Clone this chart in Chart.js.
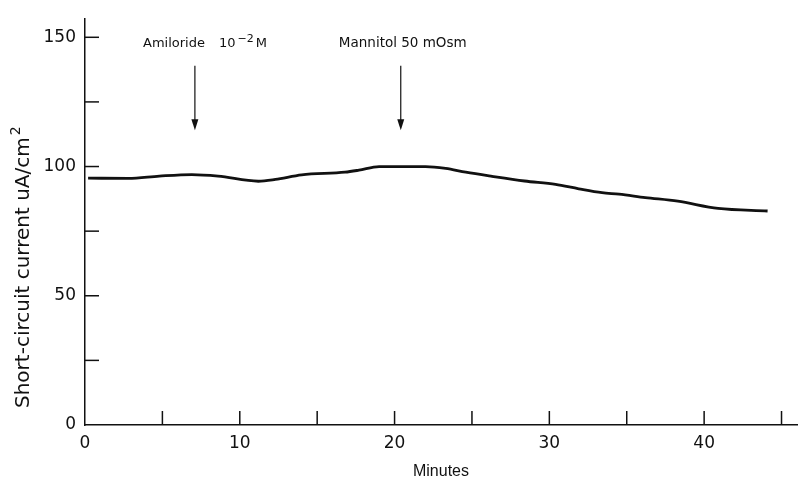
<!DOCTYPE html>
<html>
<head>
<meta charset="utf-8">
<script src="https://cdn.jsdelivr.net/npm/chart.js@4/dist/chart.umd.min.js"></script>
<style>
  html, body { margin: 0; padding: 0; background: #fff; }
  #wrap { width: 798px; height: 485px; }
</style>
</head>
<body>
<div id="wrap"><canvas id="chart"></canvas></div>
<script>
// Data (minutes, uA/cm2)
const minutes = [0.2, 2.8, 4.8, 6.9, 8.6, 11.2, 12.3, 14.0, 16.8, 17.7, 19.0, 22.0, 23.3, 24.6, 26.3, 28.4, 30.4, 31.9, 33.4, 34.5, 36.2, 38.3, 40.9, 44.1];
const current = [95.5, 95.4, 96.3, 96.9, 96.3, 94.3, 95.0, 96.8, 97.8, 98.6, 100.0, 100.0, 99.3, 97.8, 96.2, 94.4, 93.1, 91.4, 89.9, 89.3, 88.0, 86.6, 83.8, 82.8];

const xTicks = [0, 5, 10, 15, 20, 25, 30, 35, 40, 45];
const yTicks = [0, 25, 50, 75, 100, 125, 150];

// drug additions (minute, arrow top value, arrow tip value)
const addTimes = [7.1, 20.4];
const addLabels = ['Amiloride', 'Mannitol 50 mOsm'];
const arrowTop = 139;
const arrowTip = 114;

const wide = '"DejaVu Sans", sans-serif';
const narrow = '"Liberation Sans", Arial, sans-serif';

// inward ticks, arrows, labels, y title
const extras = {
  id: 'extras',
  afterDraw(chart) {
    const ctx = chart.ctx;
    const x = chart.scales.x, y = chart.scales.y;
    ctx.save();
    ctx.strokeStyle = '#111';
    ctx.lineWidth = 1.5;
    x.ticks.forEach(t => {
      if (t.value === 0) return;
      const px = x.getPixelForValue(t.value);
      ctx.beginPath();
      ctx.moveTo(px, y.bottom);
      ctx.lineTo(px, y.bottom - 14);
      ctx.stroke();
    });
    y.ticks.forEach(t => {
      if (t.value === 0) return;
      const py = y.getPixelForValue(t.value);
      ctx.beginPath();
      ctx.moveTo(x.left, py);
      ctx.lineTo(x.left + 14, py);
      ctx.stroke();
    });

    // arrows
    addTimes.forEach(m => {
      const px = x.getPixelForValue(m);
      const top = y.getPixelForValue(arrowTop);
      const tip = y.getPixelForValue(arrowTip);
      ctx.lineWidth = 1.2;
      ctx.beginPath();
      ctx.moveTo(px, top);
      ctx.lineTo(px, tip - 6);
      ctx.stroke();
      ctx.fillStyle = '#111';
      ctx.beginPath();
      ctx.moveTo(px, tip);
      ctx.lineTo(px - 3.5, tip - 11);
      ctx.lineTo(px + 3.5, tip - 11);
      ctx.closePath();
      ctx.fill();
    });

    // arrow labels
    ctx.fillStyle = '#111';
    ctx.textBaseline = 'alphabetic';
    ctx.textAlign = 'left';
    const ly = 47;
    ctx.font = '13px ' + wide;
    let lx = 143;
    ctx.fillText(addLabels[0], lx, ly);
    lx += ctx.measureText(addLabels[0]).width + 14;
    ctx.fillText('10', lx, ly);
    lx += ctx.measureText('10').width + 2;
    ctx.font = '11px ' + wide;
    ctx.fillText('\u22122', lx, ly - 5);
    lx += ctx.measureText('\u22122').width + 2;
    ctx.font = '13px ' + wide;
    ctx.fillText('M', lx, ly);

    ctx.textAlign = 'center';
    ctx.font = '13.5px ' + wide;
    ctx.fillText(addLabels[1], x.getPixelForValue(addTimes[1]) + 2, ly);

    // y axis title, rotated
    ctx.translate(29, 408);
    ctx.rotate(-Math.PI / 2);
    ctx.textAlign = 'left';
    ctx.font = '20px ' + wide;
    const main = 'Short-circuit current uA/cm';
    ctx.fillText(main, 0, 0);
    const w = ctx.measureText(main).width;
    ctx.font = '14px ' + wide;
    ctx.fillText('2', w + 2, -9);
    ctx.restore();
  }
};

new Chart(document.getElementById('chart'), {
  type: 'line',
  data: {
    datasets: [{
      data: minutes.map((m, i) => ({ x: m, y: current[i] })),
      borderColor: '#111',
      borderWidth: 2.8,
      pointRadius: 0,
      cubicInterpolationMode: 'monotone',
      fill: false
    }]
  },
  options: {
    responsive: true,
    maintainAspectRatio: false,
    animation: false,
    layout: { padding: { top: 15, right: 1, left: 0, bottom: 0 } },
    plugins: { legend: { display: false }, tooltip: { enabled: false } },
    scales: {
      x: {
        type: 'linear',
        min: 0,
        max: 46,
        afterBuildTicks: s => { s.ticks = xTicks.map(v => ({ value: v })); },
        grid: { display: true, drawOnChartArea: false, drawTicks: false },
        border: { display: true, color: '#111', width: 1.5 },
        ticks: {
          padding: 8,
          color: '#111',
          font: { family: wide, size: 17 },
          callback: v => (v % 10 === 0 ? v : '')
        },
        title: {
          display: true,
          text: 'Minutes',
          color: '#111',
          font: { family: narrow, size: 16 },
          padding: { top: 1 }
        },
        afterFit: s => { s.height = 60; }
      },
      y: {
        min: 0,
        max: 157,
        afterBuildTicks: s => { s.ticks = yTicks.map(v => ({ value: v })); },
        grid: { display: true, drawOnChartArea: false, drawTicks: false },
        border: { display: true, color: '#111', width: 1.5 },
        ticks: {
          padding: 9,
          color: '#111',
          font: { family: wide, size: 17 },
          callback: v => (v % 50 === 0 ? v : '')
        },
        afterFit: s => { s.width = 85; }
      }
    }
  },
  plugins: [extras]
});
</script>
</body>
</html>
